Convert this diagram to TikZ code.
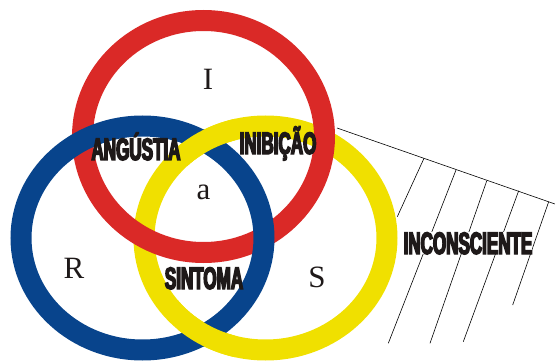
\documentclass[tikz,border=0pt]{standalone}
\usepackage{fontspec}
\usepackage{tikz}
\newfontfamily\letterfont{Liberation Serif}
\newfontfamily\labelfont{Liberation Sans}[FakeStretch=0.55, BoldFeatures={FakeBold=4.5}]
\definecolor{ringR}{RGB}{218,41,39}
\definecolor{ringB}{RGB}{8,68,140}
\definecolor{ringY}{RGB}{240,224,0}
\definecolor{inkK}{RGB}{30,25,25}
\tikzset{ringline/.style={line width=21pt},
  letter/.style={font=\letterfont\fontsize{31}{31}\selectfont, text=inkK, anchor=base, inner sep=0pt},
  tag/.style={font=\labelfont\bfseries\fontsize{31}{31}\selectfont, text=inkK, anchor=base, inner sep=0pt},
  hatch/.style={line width=0.6pt, black}}

\begin{document}
\begin{tikzpicture}[x=1pt, y=-1pt]
\useasboundingbox (0,0) rectangle (555,361);
\clip (0,0) rectangle (555,361);
\coordinate (cR) at (203.5,136.5);
\coordinate (cB) at (142.5,238);
\coordinate (cY) at (265.5,238);
% rings: yellow under red, red under blue
\draw[ringline, ringY] (cY) ellipse[x radius=121.5, y radius=112];
\draw[ringline, ringR] (cR) ellipse[x radius=121, y radius=116];
\draw[ringline, ringB] (cB) ellipse[x radius=121.5, y radius=112];
% yellow back over blue at both crossings
\foreach \ya/\yb in {110/165, 300/361} {
  \begin{scope}
  \clip (178,\ya) rectangle (235,\yb);
  \draw[ringline, ringY] (cY) ellipse[x radius=121.5, y radius=112];
  \end{scope}
}
% hatching on the right
\coordinate (hA) at (337,128);
\coordinate (hB) at (555,204);
\draw[hatch] (hA) -- (hB);
\foreach \xa/\ya/\xb/\yb in {424/158.3/397.3/216.7, 456/170/388.3/343.3, 486.7/181/430/343.3,
  518.7/190.7/463.3/341.7, 548.7/201.7/512.7/305}
  \draw[hatch] (\xa,\ya) -- (\xb,\yb);
% letters
\node[letter] (I) at (208,90) {I};
\node[letter] (a) at (203.5,200) {a};
\node[letter] (R) at (74,278) {R};
\node[letter] (S) at (317,287) {S};
% labels
\node[tag] (angustia) at (136,160) {ANGÚSTIA};
\node[tag] (inibicao) at (278,154) {INIBIÇÃO};
\node[tag] (sintoma) at (204,289) {SINTOMA};
\node[tag, fill=white] (inconsciente) at (468,254) {INCONSCIENTE};
\end{tikzpicture}
\end{document}
